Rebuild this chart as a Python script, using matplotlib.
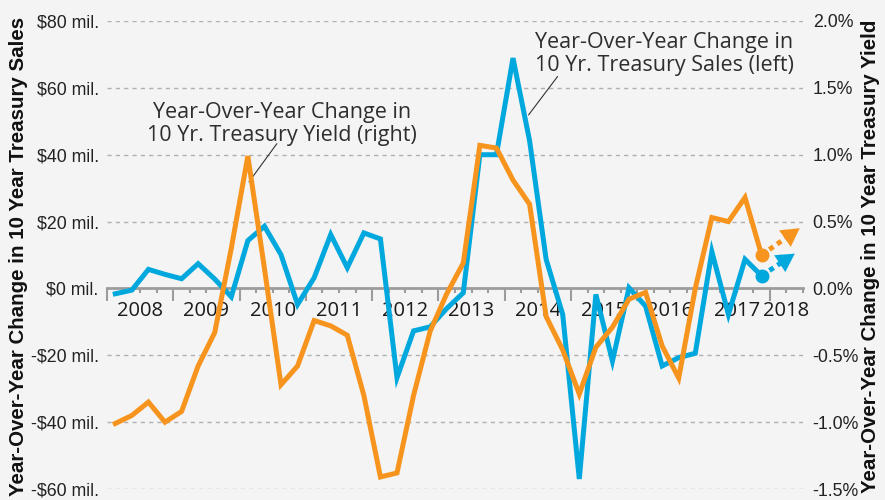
import matplotlib
matplotlib.use("Agg")
import matplotlib.pyplot as plt
import numpy as np

# ---------------- data ----------------
years = ["2008", "2009", "2010", "2011", "2012", "2013", "2014", "2015", "2016", "2017", "2018"]
quarters_per_year = [4, 4, 4, 4, 4, 4, 4, 4, 4, 4, 2]

sales = [-1.6, -0.5, 5.7, 4.2, 2.9, 7.4, 2.8, -2.5,
         14.3, 18.6, 10.1, -4.8, 3.2, 16.1, 6.2, 16.6,
         14.8, -26.7, -12.7, -11.5, -6.0, -1.3, 40.0, 40.0,
         68.9, 44.2, 8.7, -7.8, -57.0, -1.8, -21.7, 0.2,
         -5.3, -23.2, -20.7, -19.4, 11.0, -7.8, 8.7, 3.8]
yield_chg = [-1.01, -0.95, -0.85, -1.00, -0.92, -0.58, -0.33, 0.30,
             0.99, 0.15, -0.72, -0.58, -0.24, -0.28, -0.35, -0.80,
             -1.41, -1.38, -0.80, -0.32, -0.04, 0.19, 1.07, 1.05,
             0.81, 0.63, -0.21, -0.46, -0.79, -0.44, -0.29, -0.08,
             -0.03, -0.43, -0.67, 0.00, 0.53, 0.50, 0.68, 0.25]
# projected direction (dotted arrows)
sales_proj_x = [39, 41.0]
sales_proj = [3.8, 10.4]
yield_proj_x = [39, 41.3]
yield_proj = [0.25, 0.45]

left_ticks = [-60, -40, -20, 0, 20, 40, 60, 80]
left_labels = ["-$60 mil.", "-$40 mil.", "-$20 mil.", "$0 mil.", "$20 mil.", "$40 mil.", "$60 mil.", "$80 mil."]
right_ticks = [-1.5, -1.0, -0.5, 0.0, 0.5, 1.0, 1.5, 2.0]
right_labels = ["-1.5%", "-1.0%", "-0.5%", "0.0%", "0.5%", "1.0%", "1.5%", "2.0%"]

BLUE = "#00a8de"
ORANGE = "#f7941e"
BG = "#f4f4f4"
GRAY = "#9c9c9c"
TXT = "#222222"

fig = plt.figure(figsize=(8.85, 5.0), dpi=100, facecolor=BG)
ax = fig.add_axes([107 / 885, 11 / 500, 696 / 885, 468 / 500])
ax.set_facecolor(BG)
ax2 = ax.twinx()

n_q = sum(quarters_per_year)
x = np.arange(len(sales))

ax.set_xlim(-0.5, n_q - 0.5)
ax.set_ylim(-60, 80)
ax2.set_ylim(-1.5, 2.0)

# grid
for t in left_ticks:
    if t != 0:
        ax.axhline(t, color="#b0b0b0", lw=1.0, ls=(0, (3, 3)), zorder=0)

# spines
for s in ["top", "right", "left"]:
    ax.spines[s].set_visible(False)
    ax2.spines[s].set_visible(False)
ax2.spines["bottom"].set_visible(False)
ax.spines["bottom"].set_position(("data", 0))
ax.spines["bottom"].set_color(GRAY)
ax.spines["bottom"].set_linewidth(2.0)
ax.spines["bottom"].set_zorder(2)

# x ticks
bounds = np.concatenate([[0], np.cumsum(quarters_per_year)]) - 0.5
ax.set_xticks(bounds[:-1])
ax.set_xticks(np.arange(n_q + 1) - 0.5, minor=True)
ax.tick_params(axis="x", which="major", length=9.5, width=1.5, color=GRAY, labelbottom=False)
ax.tick_params(axis="x", which="minor", length=3.8, width=1.5, color=GRAY, labelbottom=False)
centers = (bounds[:-1] + bounds[1:]) / 2
for c, lab in zip(centers, years):
    ax.annotate(lab, xy=(c, 0), xytext=(0, -9.0), textcoords="offset points",
                ha="center", va="top", fontsize=14.5, family="Open Sans",
                color="#1a1a1a", zorder=1)

# y ticks
ax.set_yticks(left_ticks)
ax.set_yticklabels(left_labels, family="Liberation Sans", fontsize=12.8, color=TXT)
ax.tick_params(axis="y", length=0, pad=6)
ax2.set_yticks(right_ticks)
ax2.set_yticklabels(right_labels, family="Liberation Sans", fontsize=12.8, color=TXT)
ax2.tick_params(axis="y", length=0, pad=7)

# lines
ax.plot(x, sales, color=BLUE, lw=3.6, solid_joinstyle="miter", zorder=3)
ax2.plot(x, yield_chg, color=ORANGE, lw=3.6, solid_joinstyle="miter", zorder=3)

# end markers and dotted projections
def proj(axis, px, py, color):
    axis.plot(px[0], py[0], "o", color=color, ms=9, zorder=4)
    t = 0.72
    mx = px[0] + (px[1] - px[0]) * t
    my = py[0] + (py[1] - py[0]) * t
    axis.plot([px[0], mx], [py[0], my], color=color, lw=3.6, ls=(0, (1, 0.9)),
              dash_capstyle="butt", zorder=4)
    axis.annotate("", xy=(px[1], py[1]), xytext=(mx, my),
                  arrowprops=dict(arrowstyle="-|>,head_length=0.8,head_width=0.45",
                                  color=color, lw=0.1, mutation_scale=16,
                                  shrinkA=0, shrinkB=0), zorder=4)

proj(ax, sales_proj_x, sales_proj, BLUE)
proj(ax2, yield_proj_x, yield_proj, ORANGE)

# annotations
ann_kw = dict(fontsize=15.5, family="Open Sans", color="#2e2e2e", linespacing=1.12)
ax.text(10.08, 49.3, "Year-Over-Year Change in\n10 Yr. Treasury Yield (right)",
        ha="center", va="center", **ann_kw)
ax.annotate("", xy=(8.07, 31.9), xytext=(9.75, 43.3),
            arrowprops=dict(arrowstyle="-", color="#333333", lw=0.8, shrinkA=0, shrinkB=0))
ax.text(25.35, 70.0, "Year-Over-Year Change in\n10 Yr. Treasury Sales (left)",
        ha="left", va="center", **ann_kw)
ax.annotate("", xy=(24.94, 51.9), xytext=(26.69, 63.4),
            arrowprops=dict(arrowstyle="-", color="#333333", lw=0.8, shrinkA=0, shrinkB=0))

# axis titles
fig.text(19 / 885, 1 - 256 / 500, "Year-Over-Year Change in 10 Year Treasury Sales",
         rotation=90, ha="center", va="center", fontsize=14.8, fontweight="bold",
         family="Liberation Sans", color="#111111")
fig.text(871 / 885, 1 - 256 / 500, "Year-Over-Year Change in 10 Year Treasury Yield",
         rotation=90, ha="center", va="center", fontsize=14.8, fontweight="bold",
         family="Liberation Sans", color="#111111")

fig.savefig("out.png", dpi=100, facecolor=BG)
